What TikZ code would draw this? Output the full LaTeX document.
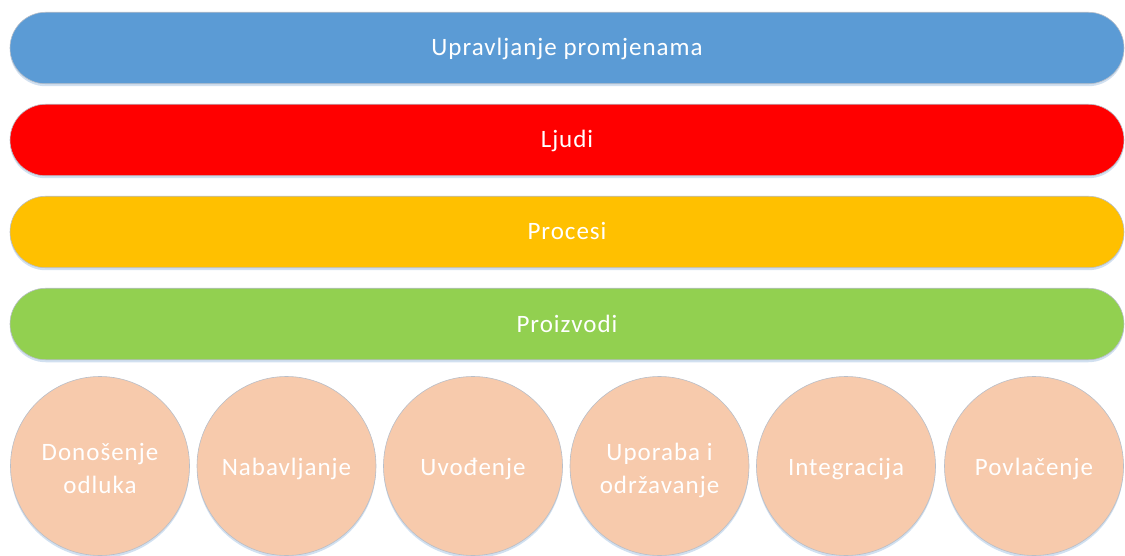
\documentclass[tikz,border=0pt]{standalone}
\usepackage{fontspec}
\setmainfont{Carlito}[LetterSpace=4]
\usetikzlibrary{shadows}
\definecolor{cblue}{HTML}{5B9BD5}
\definecolor{cred}{HTML}{FF0000}
\definecolor{cyellow}{HTML}{FFC000}
\definecolor{cgreen}{HTML}{92D050}
\definecolor{cpeach}{HTML}{F7CAAC}
\definecolor{cedge}{HTML}{B8BEC8}
\definecolor{cshadow}{HTML}{BDD3EA}
\tikzset{
  bar/.style={draw=cedge, line width=0.6pt, rounded corners=35.75pt, minimum width=1114pt, minimum height=71.5pt, inner sep=0pt, text=white, font=\fontsize{25}{33}\selectfont, text height=16pt, text depth=0pt,
    drop shadow={shadow xshift=0pt, shadow yshift=-2.5pt, fill=cshadow, opacity=0.7}},
  phase/.style={circle, draw=cedge, line width=0.6pt, fill=cpeach, minimum size=179pt, inner sep=0pt, text=white, align=center, font=\fontsize{25}{33}\selectfont, text height=18pt, text depth=0pt,
    drop shadow={shadow xshift=0pt, shadow yshift=-2.5pt, fill=cshadow, opacity=0.7}},
  twoline/.style={text height=54pt}
}
\begin{document}
\begin{tikzpicture}[x=1pt,y=-1pt]
\useasboundingbox (0,0) rectangle (1125,556);
\node[bar, fill=cblue] (b1) at (567,48) {Upravljanje promjenama};
\node[bar, fill=cred] (b2) at (567,140) {Ljudi};
\node[bar, fill=cyellow] (b3) at (567,232) {Procesi};
\node[bar, fill=cgreen] (b4) at (567,324) {Proizvodi};
\node[phase, twoline] (c1) at (100,466) {Donošenje\\odluka};
\node[phase] (c2) at (286.5,466) {Nabavljanje};
\node[phase] (c3) at (473,466) {Uvođenje};
\node[phase, twoline] (c4) at (659.5,466) {Uporaba i\\održavanje};
\node[phase] (c5) at (846,466) {Integracija};
\node[phase] (c6) at (1034,466) {Povlačenje};
\end{tikzpicture}
\end{document}
